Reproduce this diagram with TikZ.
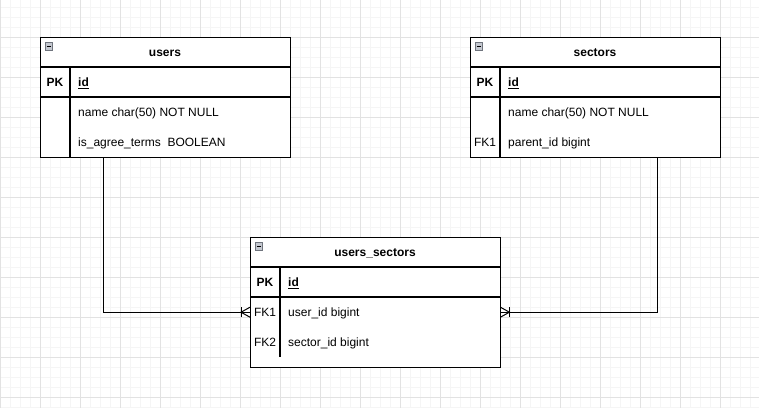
\documentclass[tikz,border=0pt]{standalone}
\usepackage{fontspec}
\setmainfont{Liberation Sans}
\definecolor{gridminor}{HTML}{F5F5F5}
\definecolor{gridmajor}{HTML}{E2E2E2}
\definecolor{iconfill}{HTML}{C4C8D0}
\definecolor{iconline}{HTML}{6F747D}
\begin{document}
\begin{tikzpicture}[x=1pt,y=-1pt,
  font=\fontsize{12}{14}\selectfont,
  tbl/.style={draw=black, line width=1.2pt, inner sep=0pt, anchor=north west},
  sep/.style={draw=black, line width=1.2pt},
  title/.style={font=\fontsize{12}{14}\selectfont\bfseries, inner sep=0pt, text height=10pt, text depth=1.5pt},
  key/.style={inner sep=0pt, text height=10pt, text depth=1.5pt},
  keyb/.style={key, font=\fontsize{12}{14}\selectfont\bfseries},
  field/.style={key, anchor=west},
  fieldb/.style={field, font=\fontsize{12}{14}\selectfont\bfseries},
  rowbox/.style={minimum width=250pt, minimum height=30pt, inner sep=0pt, anchor=north west},
  link/.style={draw=black, line width=1pt},
  icon/.style={fill=iconfill, draw=iconline, line width=0.7pt}]
\useasboundingbox (0,0) rectangle (759,408);
\fill[white] (0,0) rectangle (759,408);

% background grid
\foreach \x in {0,10,...,750} \draw[gridminor, line width=0.8pt] (\x,0) -- (\x,408);
\foreach \y in {7,17,...,407} \draw[gridminor, line width=0.8pt] (0,\y) -- (759,\y);
\foreach \x in {0,40,...,720} \draw[gridmajor, line width=0.8pt] (\x,0) -- (\x,408);
\foreach \y in {37,77,...,397} \draw[gridmajor, line width=0.8pt] (0,\y) -- (759,\y);

% ---------- users ----------
\node[tbl, fill=white, minimum width=250pt, minimum height=120pt] (users) at (40,37) {};
\draw[sep] (40,67) -- (290,67);
\draw[sep] (40,97) -- (290,97);
\draw[sep] (70,67) -- (70,157);
\draw[icon] (45,42.5) rectangle (52.5,50);
\draw[black, line width=1pt] (46.7,46.25) -- (50.8,46.25);
\node[title] (userstitle) at (165,52) {users};
\node[keyb] (userspk) at (55,82) {PK};
\node[fieldb] (usersid) at (78,82) {\underline{id}};
\node[field] (usersname) at (78,112) {name char(50) NOT NULL};
\node[field] (usersagree) at (78,142) {is\_agree\_terms\ \ BOOLEAN};

% ---------- sectors ----------
\node[tbl, fill=white, minimum width=250pt, minimum height=120pt] (sectors) at (470,37) {};
\draw[sep] (470,67) -- (720,67);
\draw[sep] (470,97) -- (720,97);
\draw[sep] (500,67) -- (500,157);
\draw[icon] (475,42.5) rectangle (482.5,50);
\draw[black, line width=1pt] (476.7,46.25) -- (480.8,46.25);
\node[title] (sectorstitle) at (595,52) {sectors};
\node[keyb] (sectorspk) at (485,82) {PK};
\node[fieldb] (sectorsid) at (508,82) {\underline{id}};
\node[field] (sectorsname) at (508,112) {name char(50) NOT NULL};
\node[key] (sectorsfk) at (485,142) {FK1};
\node[field] (sectorsparent) at (508,142) {parent\_id bigint};

% ---------- users_sectors ----------
\node[tbl, fill=white, minimum width=250pt, minimum height=130pt] (us) at (250,237) {};
\draw[sep] (250,267) -- (500,267);
\draw[sep] (250,297) -- (500,297);
\draw[sep] (280,267) -- (280,357);
\draw[icon] (255,242.5) rectangle (262.5,250);
\draw[black, line width=1pt] (256.7,246.25) -- (260.8,246.25);
\node[title] (ustitle) at (375,252) {users\_sectors};
\node[keyb] (uspk) at (265,282) {PK};
\node[fieldb] (usid) at (288,282) {\underline{id}};
\node[rowbox] (usrow1) at (250,297) {};
\node[key] (usfk1) at (265,312) {FK1};
\node[field] (ususer) at (288,312) {user\_id bigint};
\node[key] (usfk2) at (265,342) {FK2};
\node[field] (ussector) at (288,342) {sector\_id bigint};

% ---------- relations ----------
\draw[link] ([xshift=63pt]users.south west) |- (usrow1.west);
\draw[link] ([xshift=187pt]sectors.south west) |- (usrow1.east);

% crow's feet (one-to-many) at users_sectors
\draw[link] ([xshift=-9pt,yshift=5pt]usrow1.west) -- ([xshift=-9pt,yshift=-5pt]usrow1.west);
\draw[link] ([yshift=5pt]usrow1.west) -- ([xshift=-9pt]usrow1.west) -- ([yshift=-5pt]usrow1.west);
\draw[link] ([xshift=9pt,yshift=5pt]usrow1.east) -- ([xshift=9pt,yshift=-5pt]usrow1.east);
\draw[link] ([yshift=5pt]usrow1.east) -- ([xshift=9pt]usrow1.east) -- ([yshift=-5pt]usrow1.east);
\end{tikzpicture}
\end{document}
